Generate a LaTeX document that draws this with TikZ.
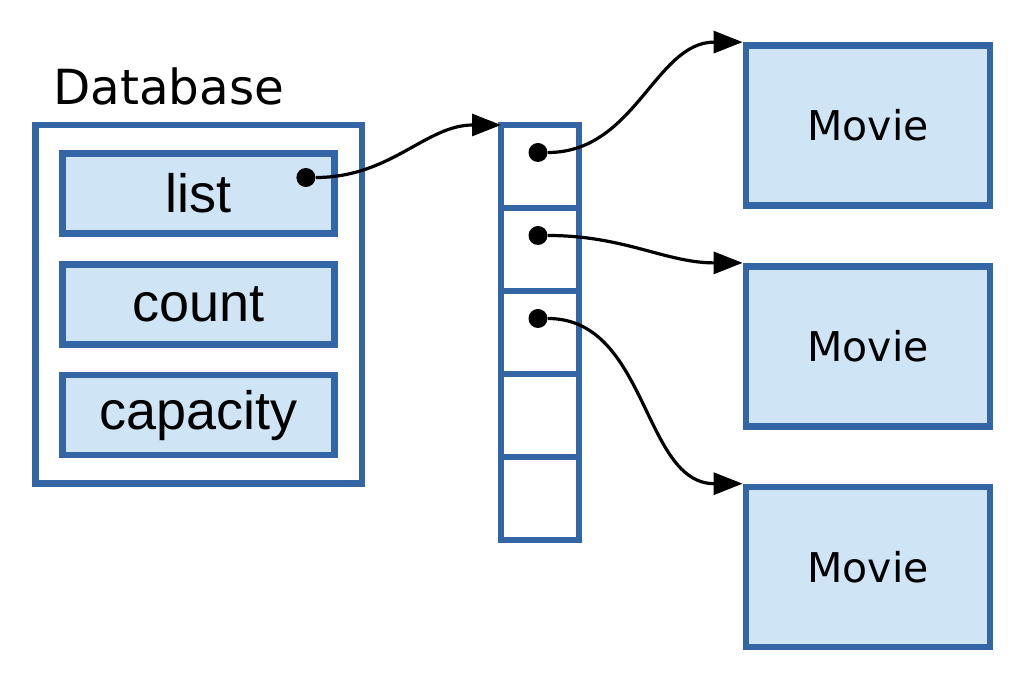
\documentclass[tikz,border=0pt]{standalone}
\usepackage{fontspec}
\setsansfont{Liberation Sans}
\newfontfamily\dejavu{DejaVu Sans}
\usepackage{tikz}
\usetikzlibrary{arrows.meta, positioning, fit}
\definecolor{boxblue}{RGB}{52,101,164}
\definecolor{boxfill}{RGB}{207,228,245}
\tikzset{
    field/.style={
        rectangle, minimum width=136pt, minimum height=40pt, inner sep=0pt,
        text centered, draw=boxblue, line width=3.4pt, fill=boxfill,
        font=\sffamily\fontsize{27}{32}\selectfont
    },
    holder/.style={
        rectangle, draw=boxblue, line width=3.4pt, inner xsep=12pt, inner ysep=12.5pt
    },
    cell/.style={
        rectangle, minimum width=39pt, minimum height=41.5pt, inner sep=0pt,
        outer sep=0pt, draw=boxblue, line width=3.4pt
    },
    movie/.style={
        rectangle, minimum width=122pt, minimum height=80pt, inner sep=0pt,
        text centered, draw=boxblue, line width=3.4pt, fill=boxfill,
        font=\dejavu\fontsize{20.5}{24}\selectfont
    },
    ptrdot/.style={circle, fill=black, minimum size=9.5pt, inner sep=0pt},
    pointer/.style={line width=1.6pt, -{Triangle[length=14.5pt,width=11pt]}}
}
\begin{document}
\begin{tikzpicture}[x=1pt, y=1pt]
    \useasboundingbox (0,0) rectangle (512,-341.5);
    \node (list) [field] at (99.25,-96.75) {list};
    \node (count) [field, below=12pt of list] {count};
    \node (capacity) [field, below=12pt of count] {capacity};
    \node (db) [holder, fit=(list)(capacity)] {};
    \node (dbname) [anchor=base west, inner sep=0pt, font=\dejavu\fontsize{24.2}{28}\selectfont] at ([xshift=10.5pt,yshift=8.5pt]db.north west) {Database};
    \node (cell1) [cell] at (270,-83.25) {};
    \node (cell2) [cell, below=0pt of cell1] {};
    \node (cell3) [cell, below=0pt of cell2] {};
    \node (cell4) [cell, below=0pt of cell3] {};
    \node (cell5) [cell, below=0pt of cell4] {};
    \node (movie1) [movie] at (434,-62.75) {Movie};
    \node (movie2) [movie, below=27pt of movie1] {Movie};
    \node (movie3) [movie, below=27pt of movie2] {Movie};
    \node (listdot) [ptrdot] at ([xshift=-16pt,yshift=8pt]list.east) {};
    \node (dot1) [ptrdot] at ([xshift=-1pt,yshift=7pt]cell1.center) {};
    \node (dot2) [ptrdot] at ([xshift=-1pt,yshift=7pt]cell2.center) {};
    \node (dot3) [ptrdot] at ([xshift=-1pt,yshift=7pt]cell3.center) {};
    \draw [pointer] (listdot) to[out=0, in=180] (cell1.north west);
    \draw [pointer] (dot1) to[out=0, in=180] (movie1.north west);
    \draw [pointer] (dot2) to[out=0, in=180] (movie2.north west);
    \draw [pointer] (dot3) to[out=0, in=180] (movie3.north west);
\end{tikzpicture}
\end{document}
